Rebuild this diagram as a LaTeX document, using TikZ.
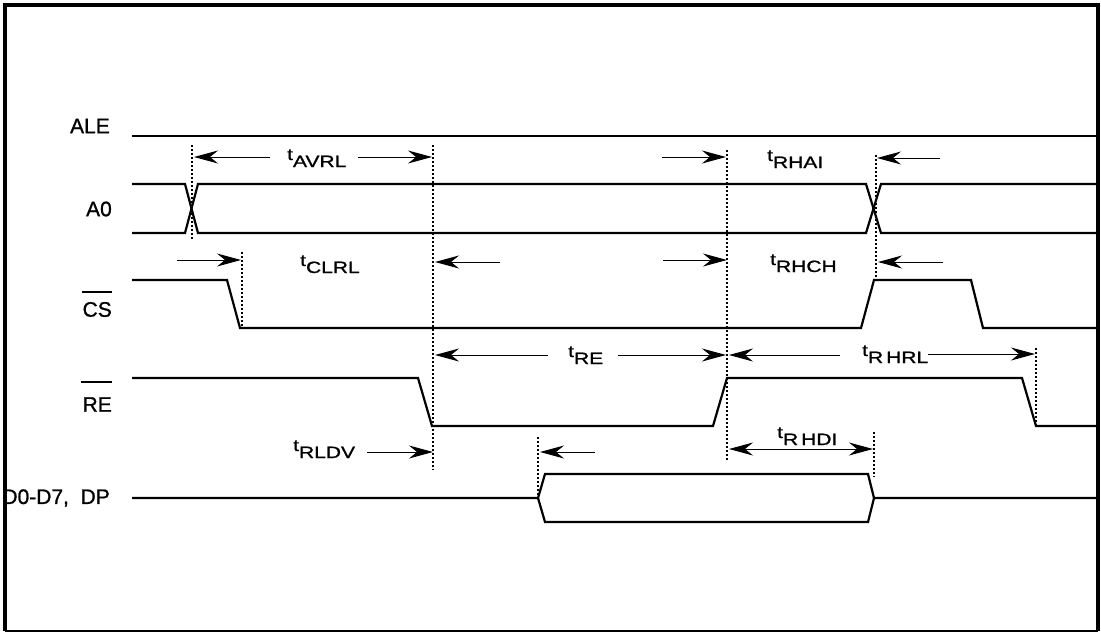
\documentclass[tikz,border=0pt]{standalone}
\usepackage{fontspec}
\setmainfont{Liberation Sans}[FakeBold=1]
\usetikzlibrary{arrows.meta}
\newcommand\tlab[1]{\scalebox{1}[0.78]{\raisebox{9pt}{t}#1}}
\begin{document}
\begin{tikzpicture}[x=1pt,y=-1pt,
  sig/.style={line width=2.2pt, line join=miter},
  dots/.style={line width=1.1pt, dash pattern=on 2pt off 2pt},
  tarrow/.style={-{Stealth[length=24pt,width=13pt,inset=8pt]}, line width=1pt},
  tboth/.style={{Stealth[length=24pt,width=13pt,inset=8pt]}-{Stealth[length=24pt,width=13pt,inset=8pt]}, line width=1pt},
  siglabel/.style={anchor=east, inner sep=0pt, font=\fontsize{21}{24}\selectfont},
  tname/.style={anchor=base west, inner sep=0pt, font=\fontsize{21}{24}\selectfont}]
\useasboundingbox (0,0) rectangle (1101,633);
\fill[white] (0,0) rectangle (1101,633);

% signal labels
\node[siglabel] (ale) at (110,126) {ALE};
\node[siglabel] (a0) at (112,209) {A0};
\node[siglabel] (cs) at (112,309.5) {CS};
\node[siglabel] (re) at (112,404.5) {RE};
\node[siglabel] (dd) at (110,498) {D0-D7,\ \ DP};
\draw[line width=1.2pt] (82,292) -- (112,292);
\draw[line width=1.2pt] (81,382) -- (112,382);

% waveforms
\draw[sig] (132,136) -- (1097,136);
\draw[sig] (132,184) -- (185,184) -- (198,233) -- (866,233) -- (881,184) -- (1097,184);
\draw[sig] (132,233) -- (185,233) -- (198,184) -- (866,184) -- (881,233) -- (1097,233);
\draw[sig] (132,280) -- (227,280) -- (240,328) -- (861,328) -- (874,280) -- (971,280) -- (983,328) -- (1097,328);
\draw[sig] (132,378) -- (418,378) -- (432,426) -- (713,426) -- (727,378) -- (1022,378) -- (1036,426) -- (1097,426);
\draw[sig] (132,498) -- (538,498) -- (545,474) -- (868,474) -- (874,498) -- (1097,498);
\draw[sig] (538,498) -- (545,522) -- (868,522) -- (874,498);

% dotted reference lines
\coordinate (d1t) at (192,145); \coordinate (d1b) at (192,240);
\coordinate (d2t) at (433,145); \coordinate (d2b) at (433,470);
\coordinate (d3t) at (242,252); \coordinate (d3b) at (242,328);
\coordinate (d4t) at (727,150); \coordinate (d4b) at (727,460);
\coordinate (d5t) at (876,155); \coordinate (d5b) at (876,277);
\coordinate (d6t) at (538,437); \coordinate (d6b) at (538,497);
\coordinate (d7t) at (874,432); \coordinate (d7b) at (874,477);
\coordinate (d8t) at (1036,348); \coordinate (d8b) at (1036,425);
\foreach \n in {1,...,8} \draw[dots] (d\n t) -- (d\n b);

% timing labels
\node[tname] (tavrl) at (287,167) {\tlab{AVRL}};
\node[tname] (tclrl) at (300,273) {\tlab{CLRL}};
\node[tname] (trhai) at (767,168) {\tlab{RHAI}};
\node[tname] (trhch) at (770,272) {\tlab{RHCH}};
\node[tname] (tre) at (568,364) {\tlab{RE}};
\node[tname] (trhrl) at (862,363) {\tlab{R\hspace{3pt}HRL}};
\node[tname] (trldv) at (293,458) {\tlab{RLDV}};
\node[tname] (trhdi) at (777,445) {\tlab{R\hspace{3pt}HDI}};

% arrow anchor coordinates
\coordinate (a1s) at (270,157); \coordinate (a1e) at (194,157);
\coordinate (a2s) at (358,157); \coordinate (a2e) at (432,157);
\coordinate (a3s) at (662,157); \coordinate (a3e) at (726,157);
\coordinate (a4s) at (940,158); \coordinate (a4e) at (877,158);
\coordinate (a5s) at (177,260); \coordinate (a5e) at (241,260);
\coordinate (a6s) at (500,262); \coordinate (a6e) at (435,262);
\coordinate (a7s) at (663,260); \coordinate (a7e) at (727,260);
\coordinate (a8s) at (943,262); \coordinate (a8e) at (878,262);
\coordinate (a9s) at (548,355); \coordinate (a9e) at (435,355);
\coordinate (a10s) at (618,355); \coordinate (a10e) at (726,355);
\coordinate (a11s) at (840,355); \coordinate (a11e) at (729,355);
\coordinate (a12s) at (928,354); \coordinate (a12e) at (1035,354);
\coordinate (a13s) at (367,452); \coordinate (a13e) at (433,452);
\coordinate (a14s) at (595,452); \coordinate (a14e) at (540,452);
\foreach \n in {1,...,14} \draw[tarrow] (a\n s) -- (a\n e);
\coordinate (b1) at (729,449); \coordinate (b2) at (873,449);
\draw[tboth] (b1) -- (b2);

% frame
\draw[line width=4pt, line join=miter] (5,631) -- (5,5) -- (1098,5) -- (1098,631);
\draw[line width=1.5pt] (5,631) -- (1098,631);
\end{tikzpicture}
\end{document}
